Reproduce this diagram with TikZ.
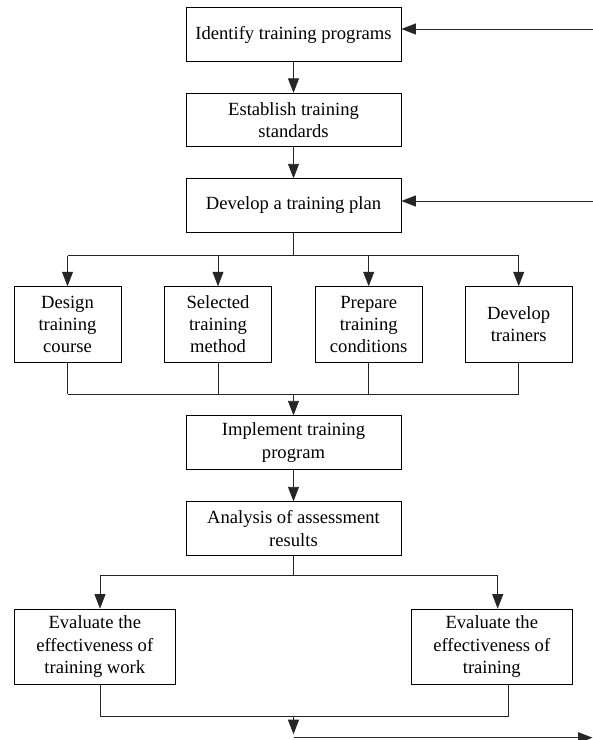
\documentclass[tikz,border=0pt]{standalone}
\usepackage{fontspec}
\setmainfont{Liberation Serif}
\usetikzlibrary{arrows.meta,calc}
\begin{document}
\begin{tikzpicture}[x=1pt,y=-1pt,
  box/.style={draw=black,line width=0.8pt,rectangle,align=center,inner sep=1pt,
    font=\fontsize{18.6}{22.3}\selectfont},
  mainbox/.style={box,minimum width=215pt,minimum height=53.5pt},
  smallbox/.style={box,minimum width=107pt,minimum height=75.3pt},
  widebox/.style={box,minimum width=161pt,minimum height=75.3pt},
  conn/.style={line width=0.8pt,draw=black!85},
  arr/.style={conn,-{Triangle[length=14.5pt,width=11pt]}}]
\useasboundingbox (0,0) rectangle (593,740);
% main column
\node[mainbox] (b1) at (293.5,34.5) {Identify training programs};
\node[mainbox] (b2) at (293.5,120) {Establish training\\standards};
\node[mainbox] (b3) at (293.5,205.5) {Develop a training plan};
\node[smallbox] (c1) at (67.5,324.3) {Design\\training\\course};
\node[smallbox] (c2) at (218,324.3) {Selected\\training\\method};
\node[smallbox] (c3) at (368.7,324.3) {Prepare\\training\\conditions};
\node[smallbox] (c4) at (518.7,324.3) {Develop\\trainers};
\node[mainbox] (b4) at (293.5,442.5) {Implement training\\program};
\node[mainbox] (b5) at (293.5,528.5) {Analysis of assessment\\results};
\node[widebox] (e1) at (94.8,646.7) {Evaluate the\\effectiveness of\\training work};
\node[widebox] (e2) at (491.8,646.7) {Evaluate the\\effectiveness of\\training};
% side inputs
\coordinate (in1) at (593,29);
\coordinate (in2) at (593,201);
\draw[arr] (in1) -- (in1 -| b1.east);
\draw[arr] (in2) -- (in2 -| b3.east);
% top chain
\draw[arr] (b1) -- (b2);
\draw[arr] (b2) -- (b3);
% branch to four
\coordinate (s1) at (293.5,255.7);
\draw[conn] (b3.south) -- (s1);
\draw[conn] (s1 -| c1.north) -- (s1 -| c4.north);
\foreach \n in {c1,c2,c3,c4}{\draw[arr] (s1 -| \n.north) -- (\n.north);}
% merge four
\coordinate (m1) at (293.5,394);
\foreach \n in {c1,c2,c3,c4}{\draw[conn] (\n.south) -- (m1 -| \n.south);}
\draw[conn] (m1 -| c1.south) -- (m1 -| c4.south);
\draw[arr] (m1) -- (b4.north);
\draw[arr] (b4) -- (b5);
% branch to two
\coordinate (s2) at (293.5,575.7);
\coordinate (s2l) at (100,575.7);
\coordinate (s2r) at (497.7,575.7);
\draw[conn] (b5.south) -- (s2);
\draw[conn] (s2l) -- (s2r);
\draw[arr] (s2l) -- (s2l |- e1.north);
\draw[arr] (s2r) -- (s2r |- e2.north);
% merge two
\coordinate (m2l) at (100,716);
\coordinate (m2r) at (508.7,716);
\coordinate (m2) at (293.5,716);
\coordinate (out0) at (293.5,737.7);
\coordinate (out1) at (592.5,737.7);
\draw[conn] (m2l |- e1.south) -- (m2l) -- (m2r) -- (m2r |- e2.south);
\draw[arr] (m2) -- ($(out0)+(0,-3.5)$);
\draw[arr] (out0) -- (out1);
\end{tikzpicture}
\end{document}
